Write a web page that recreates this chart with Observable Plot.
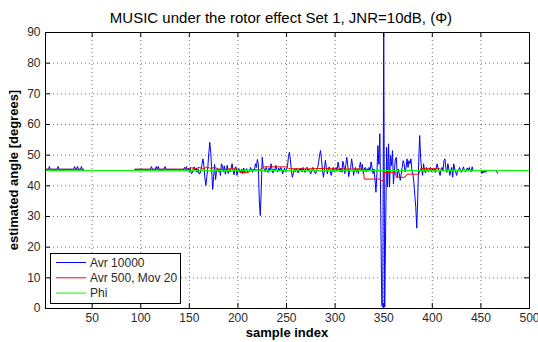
<!DOCTYPE html>
<html><head><meta charset="utf-8">
<script src="https://cdn.jsdelivr.net/npm/d3@7"></script>
<script src="https://cdn.jsdelivr.net/npm/@observablehq/plot@0.6"></script>
<style>
body{margin:0;background:#fff;}
#chart svg{display:block;}
</style>
</head><body><div id="chart"></div>
<script>
// ---- text ----
const titleText = "MUSIC under the rotor effect Set 1, JNR=10dB, (\u03A6)";
const xLabel = "sample index";
const yLabel = "estimated angle [degrees]";
const seriesNames = ["Avr 10000", "Avr 500, Mov 20", "Phi"];
const seriesColors = ["#0000ff", "#ff0000", "#00ff00"];

// ---- axes ----
const xDomain = [2, 500];
const yDomain = [0, 90];
const xTicks = [50, 100, 150, 200, 250, 300, 350, 400, 450, 500];
const yTicks = [0, 10, 20, 30, 40, 50, 60, 70, 80, 90];

// ---- series 1: Avr 10000, one value per sample index starting at 3 ----
const avr10000Start = 3;
const avr10000 = [
45.4,45.4,45.4,46.3,45.4,45.4,45.4,45.4,45.4,45.4,
45.4,45.4,46.3,45.4,45.4,45.4,45.4,45.4,45.4,45.4,
45.4,45.4,45.4,45.4,45.4,45.4,45.4,45.4,45.4,46.3,
45.4,45.4,46.3,45.4,45.4,45.4,46.3,45.4,45.4,45.0,
45,45,45,45,45,45,45,45,45,45,
45,45,45,45,45,45,45,45,45,45,
45,45,45,45,45,45,45,45,45,45,
45,45,45,45,45,45,45,45,45,45,
45,45,45,45,45,45,45,45,45,45,
45.0,45.4,45.4,45.4,45.4,45.4,45.4,45.4,45.4,45.4,
45.4,45.4,45.4,45.4,45.4,45.4,45.4,45.4,46.3,45.4,
45.4,45.4,45.4,46.3,45.4,46.3,45.4,45.4,45.4,45.4,
45.4,45.4,46.3,45.4,45.4,45.4,45.4,45.4,45.4,45.4,
45.4,45.4,45.4,45.4,45.4,45.4,45.4,45.4,45.4,45.4,
45.4,45.4,46.0,45.5,46.3,44.8,45.8,44.6,46.0,44.0,
44.2,45.6,46.2,45.0,45.8,44.4,45.6,43.9,44.0,45.2,
47.0,48.8,46.5,42.5,40.1,43.0,46.0,50.4,54.2,51.0,
45.0,38.8,43.0,47.0,42.0,45.0,45.8,44.6,45.5,43.4,
47.2,46.5,44.5,46.5,43.8,45.0,46.7,44.0,45.3,44.6,
45.8,47.2,45.0,43.6,46.0,46.2,43.4,44.8,45.6,45.0,
44.2,45.5,44.0,45.8,44.4,45.2,45.6,44.5,45.2,44.8,
46.0,45.0,44.4,45.5,45.0,47.2,46.0,48.6,47.0,35.0,
30.3,39.0,49.3,46.0,45.5,44.6,46.0,45.2,44.4,45.8,
44.8,47.2,45.5,44.2,45.5,45.0,46.7,45.3,44.5,45.8,
45.0,46.0,45.5,43.9,45.0,45.8,44.6,45.3,46.5,49.5,
51.0,48.5,45.0,42.8,44.0,45.5,44.6,45.8,45.0,44.2,
45.6,45.0,45.8,44.6,46.0,45.0,44.4,45.6,46.1,44.8,
45.5,44.6,43.9,45.2,46.0,45.0,44.5,43.9,45.3,46.0,
47.5,50.0,51.5,48.5,45.0,42.8,45.5,48.3,46.0,43.9,
45.5,46.2,44.8,43.4,45.0,46.0,44.6,45.3,46.0,45.0,
47.7,46.0,44.6,45.8,44.4,48.0,46.5,44.0,47.0,49.3,
46.5,43.0,45.0,46.0,48.8,46.5,43.4,45.2,46.0,44.4,
45.5,44.0,46.0,47.7,45.0,47.0,44.0,45.5,46.0,44.5,
45.6,44.8,46.0,45.0,47.8,46.0,44.0,45.5,42.0,37.9,
44.0,53.1,47.0,57.0,30.0,1.0,0.5,90.0,0.5,26.5,
52.6,39.6,53.7,39.6,49.9,46.6,51.5,40.6,45.0,48.8,
49.3,42.8,45.5,44.0,41.8,43.9,46.0,48.2,47.2,44.6,
46.0,48.8,46.0,48.2,47.2,48.8,45.0,43.9,41.2,36.8,
33.0,26.2,36.0,48.0,56.4,49.0,45.5,43.4,47.2,45.0,
44.2,46.0,45.3,44.5,45.5,46.0,44.6,45.5,44.8,45.6,
44.4,45.8,47.2,45.5,44.6,43.4,45.2,46.0,45.0,48.2,
48.8,45.5,44.4,47.2,45.5,43.4,45.0,46.0,42.8,47.2,
45.5,44.6,43.4,45.0,45.0,46.0,45.0,44.4,45.0,46.2,
45.0,44.6,45.0,45.8,45.0,46.0,45.0,44.6,46.2,45.0,
45.0,45.0,45.0,45.0,45.0,45.0,45.0,45.0,44.0,45.0,
44.2,45.0,44.4,45.0,45.0,45.0,45.0,45.0,45.0,45.0,
45.0,45.0,45.0,45.0,44.1
];

// ---- series 2: Avr 500, Mov 20 (polyline vertices; null = gap) ----
const avr500X = [3, 41, 42, 94, 150, 152, 156, 160, 164, 168, 172, 176, 180, 186, 192, 200, 202, 211, 213, 222, 225, 227, 250, 252, 270, 290, 300, 329, 330, 346, 347, 350, 351, 362, 363, 372, 374, 386, 388, 408];
const avr500Y = [45.4, 45.4, null, 45.4, 45.4, 45.9, 45.6, 46.0, 45.5, 46.1, 45.7, 46.0, 45.5, 45.3, 45.6, 45.5, 44.3, 44.3, 45.2, 45.2, 45.7, 46.2, 46.2, 45.6, 45.5, 45.7, 45.5, 45.5, 42.2, 42.2, 41.7, 41.7, 44.4, 44.4, 42.8, 42.8, 43.8, 43.8, 45.6, 45.6];

// ---- series 3: Phi ----
const phiX = [2, 500];
const phiY = [45, 45];

// ---- build tables ----
const blueData = avr10000.map((v, i) => ({x: avr10000Start + i, y: v}));
const redData = avr500X.map((x, i) => ({x, y: avr500Y[i]}));
const greenData = phiX.map((x, i) => ({x, y: phiY[i]}));

const W = 538, H = 342;
const mL = 45, mR = 9, mT = 32, mB = 34;
const fw = W - mL - mR, fh = H - mT - mB;
const tick = 5;
const gridStyle = {stroke: "#000", strokeOpacity: 0.55, strokeDasharray: "1,3", strokeWidth: 1};

const chart = Plot.plot({
  width: W, height: H,
  marginLeft: mL, marginRight: mR, marginTop: mT, marginBottom: mB,
  style: {fontFamily: "'Liberation Sans', Arial, sans-serif", fontSize: "12px", color: "#2a2a2a", background: "#fff", overflow: "visible"},
  x: {domain: xDomain, label: null},
  y: {domain: yDomain, label: null},
  marks: [
    Plot.gridX(xTicks, gridStyle),
    Plot.gridY(yTicks, gridStyle),
    Plot.line(blueData, {x: "x", y: "y", stroke: seriesColors[0], strokeWidth: 1, clip: true}),
    Plot.line(redData, {x: "x", y: "y", stroke: seriesColors[1], strokeWidth: 1, clip: true}),
    Plot.line(greenData, {x: "x", y: "y", stroke: seriesColors[2], strokeWidth: 1.2, clip: true}),
    Plot.ruleX(xTicks, {stroke: "#000", insetTop: fh - tick}),
    Plot.ruleX(xTicks, {stroke: "#000", insetBottom: fh - tick}),
    Plot.ruleY(yTicks, {stroke: "#000", insetRight: fw - tick}),
    Plot.ruleY(yTicks, {stroke: "#000", insetLeft: fw - tick}),
    Plot.frame({stroke: "#000"}),
    Plot.axisX(xTicks, {anchor: "bottom", tickSize: 0, tickPadding: 5, label: null}),
    Plot.axisY(yTicks, {anchor: "left", tickSize: 0, tickPadding: 5, label: null})
  ]
});
document.getElementById("chart").appendChild(chart);

const svg = d3.select(chart);
const font = "'Liberation Sans', Arial, sans-serif";
svg.append("text").attr("x", 281).attr("y", 23).attr("text-anchor", "middle")
  .attr("font-family", font).attr("font-size", 15).attr("fill", "#000").text(titleText);
svg.append("text").attr("x", mL + fw / 2).attr("y", 337).attr("text-anchor", "middle")
  .attr("font-family", font).attr("font-size", 13).attr("font-weight", "bold").attr("fill", "#000").text(xLabel);
svg.append("text").attr("transform", `translate(18,${mT + fh / 2}) rotate(-90)`).attr("text-anchor", "middle")
  .attr("font-family", font).attr("font-size", 13).attr("font-weight", "bold").attr("fill", "#000").text(yLabel);

// legend
const lg = svg.append("g");
lg.append("rect").attr("x", 50.5).attr("y", 253.5).attr("width", 130).attr("height", 50)
  .attr("fill", "#fff").attr("stroke", "#000");
seriesNames.forEach((name, i) => {
  const yy = 262.5 + i * 15.3;
  lg.append("line").attr("x1", 56).attr("x2", 86).attr("y1", yy).attr("y2", yy)
    .attr("stroke", seriesColors[i]).attr("stroke-width", 1);
  lg.append("text").attr("x", 90).attr("y", yy + 4.3).attr("text-anchor", "start").attr("font-family", font)
    .attr("font-size", 12).attr("fill", "#2a2a2a").text(name);
});
</script>
</body></html>
